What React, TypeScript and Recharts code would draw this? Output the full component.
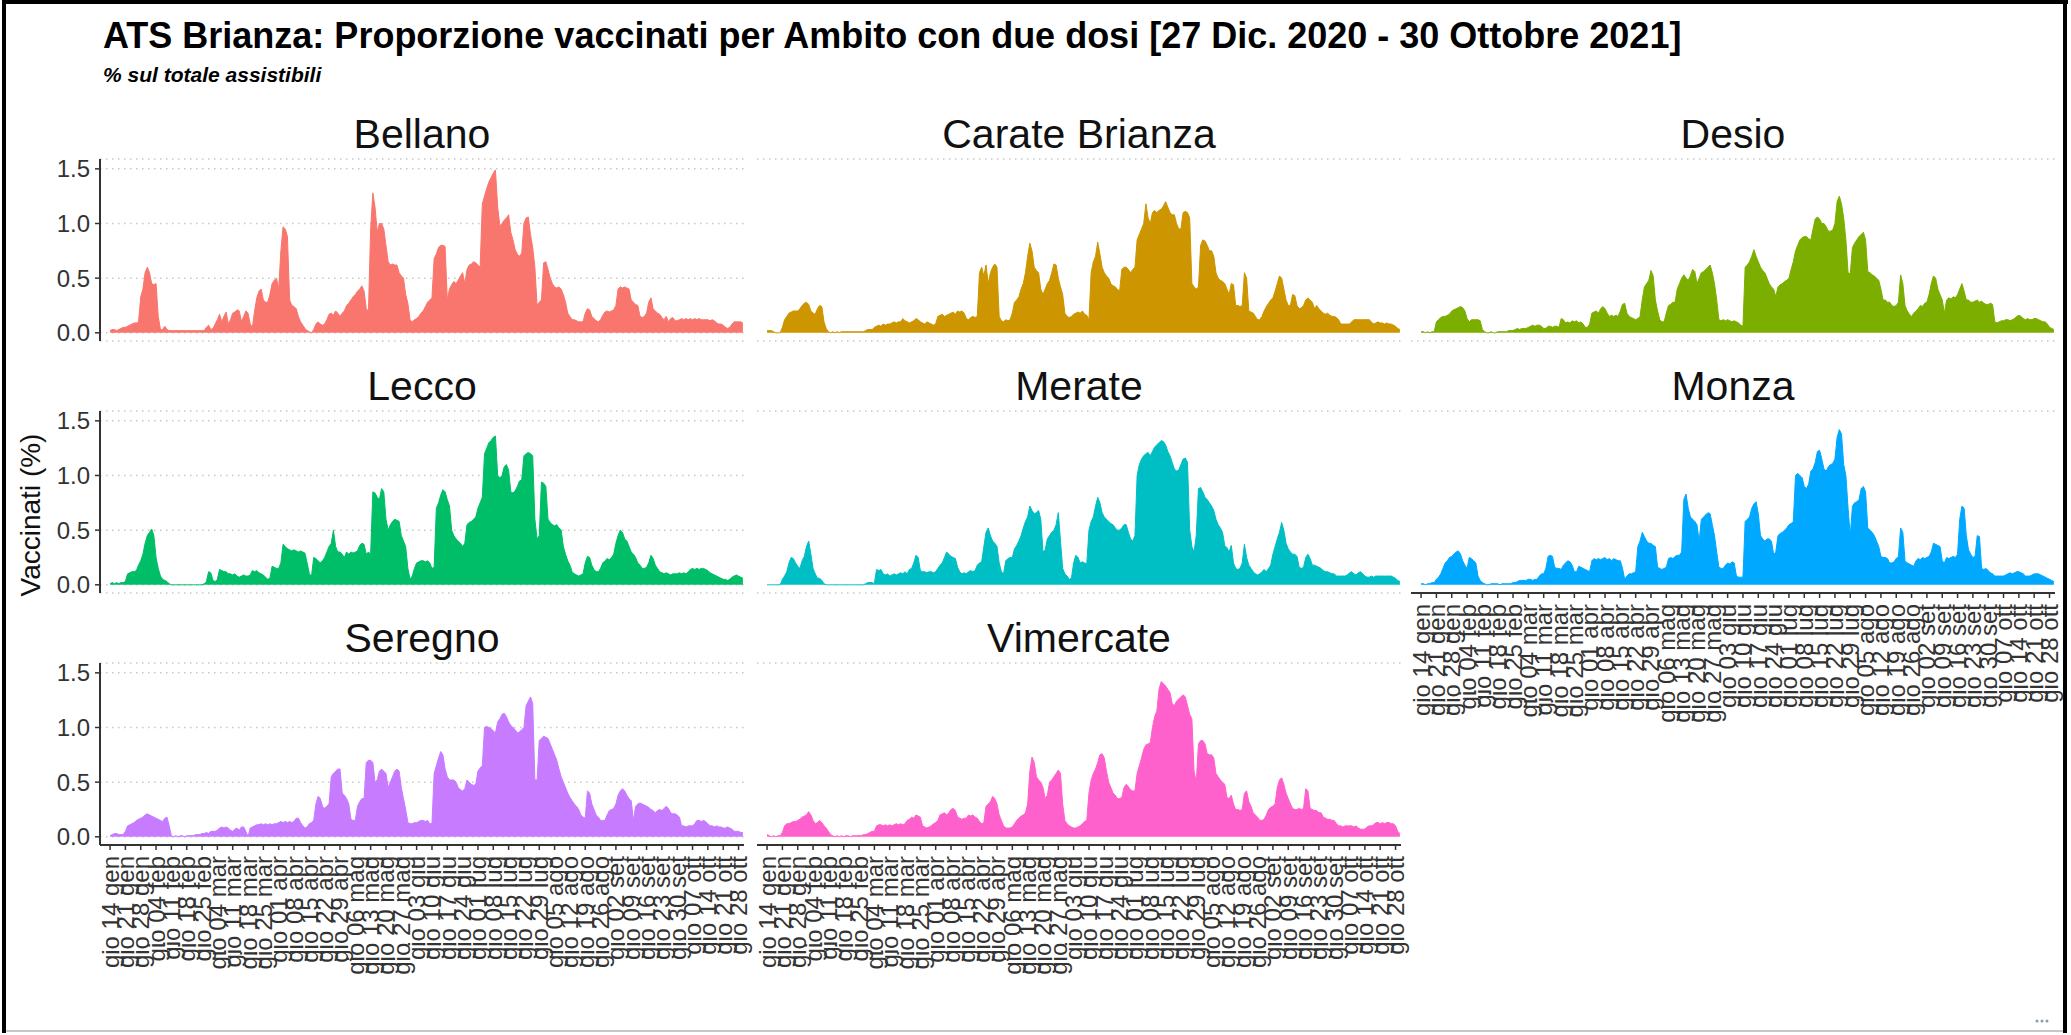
import { Area, AreaChart, CartesianGrid, XAxis, YAxis } from "recharts"

// weekly tick labels (Thursdays), the axis runs daily from gio 14 gen to sab 30 ott
const tickLabels = [
  "gio 14 gen", "gio 21 gen", "gio 28 gen",
  "gio 04 feb", "gio 11 feb", "gio 18 feb", "gio 25 feb",
  "gio 04 mar", "gio 11 mar", "gio 18 mar", "gio 25 mar",
  "gio 01 apr", "gio 08 apr", "gio 15 apr", "gio 22 apr", "gio 29 apr",
  "gio 06 mag", "gio 13 mag", "gio 20 mag", "gio 27 mag",
  "gio 03 giu", "gio 10 giu", "gio 17 giu", "gio 24 giu",
  "gio 01 lug", "gio 08 lug", "gio 15 lug", "gio 22 lug", "gio 29 lug",
  "gio 05 ago", "gio 12 ago", "gio 19 ago", "gio 26 ago",
  "gio 02 set", "gio 09 set", "gio 16 set", "gio 23 set", "gio 30 set",
  "gio 07 ott", "gio 14 ott", "gio 21 ott", "gio 28 ott",
]

const yTicks = [0, 0.5, 1, 1.5]

// daily values in hundredths of a percent (290 days, two weeks per line)
const bellano = [
  2, 3, 3, 2, 3, 4, 5, 5, 6, 7, 8, 9, 9, 10,
  33, 40, 55, 60, 55, 45, 44, 45, 15, 3, 3, 6, 3, 2,
  2, 2, 2, 2, 2, 2, 2, 2, 2, 2, 2, 2, 2, 2,
  2, 2, 5, 7, 3, 4, 8, 12, 17, 10, 15, 19, 8, 12,
  18, 19, 21, 20, 10, 15, 20, 18, 8, 5, 20, 32, 38, 40,
  30, 28, 28, 35, 45, 48, 50, 40, 75, 97, 95, 88, 30, 25,
  24, 22, 15, 10, 7, 4, 2, 1, 0, 3, 8, 10, 8, 7,
  8, 12, 17, 18, 16, 20, 18, 15, 18, 20, 25, 27, 30, 33,
  35, 38, 40, 43, 38, 22, 20, 95, 128, 115, 92, 100, 100, 95,
  80, 65, 62, 63, 62, 62, 55, 52, 50, 35, 27, 12, 10, 12,
  13, 15, 18, 20, 24, 28, 30, 32, 68, 72, 78, 80, 80, 79,
  30, 40, 44, 47, 45, 48, 52, 55, 45, 58, 62, 63, 65, 64,
  62, 60, 118, 125, 132, 138, 142, 146, 149, 115, 98, 100, 103, 105,
  108, 92, 85, 76, 72, 70, 73, 100, 105, 106, 90, 78, 60, 25,
  28, 30, 64, 65, 58, 50, 45, 42, 41, 42, 40, 35, 28, 18,
  15, 12, 12, 11, 10, 10, 10, 18, 22, 21, 15, 13, 11, 10,
  12, 16, 19, 20, 19, 20, 21, 25, 40, 42, 41, 42, 41, 40,
  30, 28, 26, 25, 15, 14, 15, 18, 28, 32, 22, 20, 18, 17,
  14, 12, 15, 10, 13, 14, 11, 11, 12, 13, 12, 13, 12, 13,
  12, 13, 12, 13, 12, 12, 12, 12, 11, 12, 11, 9, 8, 8,
  7, 5, 4, 5, 8, 10, 10, 10, 10, 9,
]

const carateBrianza = [
  2, 2, 2, 1, 0, 0, 0, 5, 12, 15, 18, 19, 20, 20,
  20, 22, 25, 27, 28, 26, 20, 18, 17, 22, 25, 24, 10, 4,
  1, 0, 1, 0, 1, 0, 1, 1, 1, 1, 1, 1, 1, 1,
  1, 1, 1, 2, 3, 3, 3, 5, 6, 7, 6, 8, 7, 8,
  8, 9, 10, 9, 10, 10, 13, 11, 10, 9, 10, 11, 13, 12,
  10, 9, 8, 10, 9, 8, 7, 8, 15, 16, 17, 15, 16, 17,
  18, 19, 17, 20, 19, 20, 18, 13, 12, 14, 15, 14, 15, 55,
  60, 52, 62, 45, 55, 60, 63, 60, 15, 11, 10, 12, 11, 12,
  18, 28, 30, 33, 40, 45, 55, 70, 82, 75, 60, 57, 55, 40,
  35, 40, 45, 48, 55, 63, 62, 50, 42, 35, 18, 15, 14, 15,
  17, 18, 19, 18, 20, 17, 16, 12, 55, 65, 70, 83, 72, 60,
  55, 52, 50, 45, 43, 42, 40, 38, 58, 60, 60, 58, 55, 58,
  60, 85, 90, 95, 100, 118, 105, 100, 110, 112, 110, 112, 113, 116,
  120, 115, 110, 108, 108, 100, 95, 95, 110, 111, 110, 105, 45, 42,
  40, 42, 80, 85, 84, 80, 75, 75, 70, 55, 50, 48, 47, 45,
  40, 35, 45, 44, 25, 25, 24, 25, 55, 50, 20, 19, 18, 15,
  12, 12, 15, 20, 24, 27, 30, 32, 38, 45, 52, 50, 40, 30,
  25, 25, 35, 34, 25, 22, 23, 25, 30, 32, 30, 28, 22, 25,
  22, 20, 18, 17, 18, 16, 15, 15, 14, 12, 8, 8, 8, 8,
  8, 10, 12, 12, 12, 12, 12, 12, 12, 12, 10, 8, 9, 10,
  9, 9, 8, 9, 8, 8, 7, 6, 4, 3,
]

const desio = [
  1, 1, 0, 1, 0, 1, 1, 10, 12, 14, 15, 15, 16, 17,
  20, 21, 22, 23, 24, 23, 20, 13, 10, 12, 12, 12, 12, 11,
  3, 1, 0, 0, 1, 0, 0, 1, 1, 1, 1, 1, 2, 2,
  2, 3, 4, 3, 4, 4, 4, 5, 6, 7, 6, 7, 7, 6,
  4, 4, 6, 6, 5, 6, 6, 5, 13, 12, 9, 10, 9, 11,
  10, 11, 9, 10, 8, 5, 5, 8, 18, 19, 20, 18, 22, 24,
  22, 18, 15, 16, 15, 16, 15, 20, 26, 27, 18, 15, 14, 13,
  12, 13, 15, 30, 42, 45, 48, 57, 52, 30, 20, 12, 10, 10,
  18, 25, 26, 28, 28, 40, 45, 50, 53, 50, 48, 52, 58, 56,
  45, 50, 55, 56, 58, 60, 62, 55, 45, 30, 12, 11, 12, 11,
  12, 11, 10, 11, 10, 9, 7, 6, 60, 62, 65, 70, 76, 70,
  65, 60, 57, 55, 50, 45, 42, 40, 33, 42, 44, 45, 47, 48,
  50, 58, 65, 75, 80, 85, 87, 88, 88, 86, 85, 95, 104, 106,
  104, 100, 100, 97, 93, 93, 94, 100, 120, 125, 118, 105, 85, 55,
  54, 78, 82, 85, 88, 90, 92, 85, 56, 55, 53, 52, 50, 48,
  40, 30, 30, 28, 28, 25, 24, 25, 28, 53, 45, 25, 20, 17,
  15, 18, 20, 22, 25, 24, 27, 28, 35, 45, 52, 50, 40, 35,
  30, 18, 30, 32, 31, 33, 32, 35, 40, 45, 38, 30, 30, 28,
  28, 29, 30, 28, 29, 27, 26, 26, 27, 26, 10, 9, 10, 11,
  11, 12, 12, 11, 12, 13, 15, 16, 15, 13, 12, 13, 12, 12,
  13, 13, 12, 11, 10, 10, 8, 5, 4, 3,
]

const lecco = [
  1, 2, 1, 2, 1, 2, 2, 3, 10, 11, 12, 12, 13, 18,
  22, 28, 38, 45, 48, 51, 45, 25, 15, 8, 5, 4, 3, 1,
  0, 0, 0, 0, 0, 0, 0, 0, 0, 0, 0, 0, 0, 0,
  0, 1, 3, 12, 11, 4, 3, 5, 14, 13, 12, 12, 10, 10,
  9, 10, 8, 7, 8, 9, 8, 8, 9, 13, 12, 13, 11, 10,
  9, 7, 5, 6, 17, 16, 15, 15, 20, 37, 35, 33, 32, 31,
  32, 31, 30, 31, 30, 29, 20, 10, 8, 25, 24, 22, 20, 22,
  25, 30, 35, 38, 50, 35, 30, 30, 28, 25, 30, 28, 30, 29,
  30, 31, 36, 38, 37, 28, 30, 28, 85, 84, 80, 78, 88, 85,
  60, 50, 55, 58, 60, 59, 58, 45, 40, 35, 15, 5, 8, 15,
  20, 21, 22, 22, 21, 22, 20, 15, 16, 70, 75, 82, 87, 85,
  78, 72, 50, 45, 42, 40, 38, 35, 38, 55, 57, 58, 60, 62,
  70, 75, 80, 120, 125, 130, 132, 135, 136, 100, 98, 100, 108, 110,
  105, 85, 84, 86, 90, 95, 96, 118, 120, 121, 120, 118, 60, 42,
  45, 94, 93, 90, 60, 57, 55, 54, 55, 52, 50, 35, 28, 22,
  18, 12, 10, 9, 8, 9, 10, 20, 26, 25, 18, 14, 12, 12,
  15, 20, 22, 24, 23, 25, 28, 38, 45, 50, 48, 42, 40, 35,
  30, 28, 25, 20, 18, 15, 15, 16, 20, 27, 24, 18, 15, 12,
  11, 10, 11, 10, 9, 10, 10, 10, 11, 10, 11, 10, 12, 14,
  15, 14, 15, 14, 15, 15, 14, 13, 11, 10, 9, 8, 7, 6,
  5, 5, 4, 5, 7, 8, 9, 8, 7, 6,
]

const merate = [
  0, 0, 0, 0, 0, 0, 0, 5, 8, 12, 20, 25, 24, 20,
  17, 15, 22, 26, 35, 40, 28, 15, 10, 6, 6, 4, 1, 0,
  0, 0, 0, 0, 0, 0, 0, 0, 0, 0, 0, 0, 0, 0,
  0, 0, 0, 1, 2, 2, 2, 1, 14, 13, 14, 10, 9, 10,
  8, 9, 10, 9, 10, 11, 10, 12, 10, 14, 15, 20, 27, 25,
  13, 12, 12, 11, 12, 12, 11, 12, 15, 18, 20, 25, 30, 28,
  26, 25, 24, 16, 12, 10, 11, 10, 12, 13, 12, 13, 18, 20,
  21, 35, 48, 52, 45, 40, 38, 35, 20, 12, 10, 22, 24, 25,
  25, 33, 36, 40, 45, 52, 58, 62, 72, 68, 65, 66, 68, 60,
  30, 32, 42, 45, 48, 50, 55, 66, 40, 15, 10, 8, 5, 6,
  20, 27, 25, 20, 21, 20, 19, 50, 58, 62, 72, 80, 75, 66,
  62, 60, 58, 56, 55, 52, 50, 50, 52, 55, 55, 48, 42, 40,
  45, 100, 110, 115, 118, 120, 121, 118, 122, 126, 128, 130, 132, 131,
  128, 122, 118, 112, 106, 104, 105, 110, 115, 116, 112, 50, 35, 30,
  45, 88, 89, 85, 80, 78, 75, 72, 68, 60, 55, 52, 48, 36,
  34, 30, 36, 20, 15, 14, 15, 20, 37, 25, 18, 15, 12, 10,
  9, 10, 12, 14, 12, 15, 18, 28, 35, 42, 48, 57, 50, 38,
  33, 30, 28, 28, 26, 16, 15, 16, 25, 28, 24, 18, 18, 17,
  16, 15, 13, 12, 12, 11, 10, 10, 8, 8, 8, 8, 8, 9,
  11, 12, 10, 9, 11, 12, 10, 8, 7, 7, 8, 7, 8, 8,
  8, 8, 8, 8, 8, 8, 7, 6, 4, 3,
]

const monza = [
  1, 1, 0, 1, 1, 2, 2, 5, 7, 10, 15, 20, 22, 25,
  26, 28, 30, 31, 28, 22, 18, 15, 25, 24, 22, 20, 8, 4,
  2, 1, 0, 0, 1, 1, 1, 1, 0, 1, 1, 1, 1, 1,
  2, 2, 3, 4, 4, 4, 4, 5, 5, 4, 5, 5, 8, 10,
  10, 15, 26, 27, 26, 16, 15, 15, 14, 18, 20, 22, 21, 18,
  12, 12, 17, 16, 15, 14, 13, 12, 22, 24, 23, 24, 23, 24,
  25, 23, 24, 22, 24, 23, 22, 22, 15, 5, 8, 10, 10, 11,
  12, 35, 40, 48, 44, 40, 38, 38, 36, 35, 16, 15, 14, 15,
  16, 24, 25, 24, 26, 27, 27, 30, 78, 83, 70, 62, 60, 58,
  55, 40, 60, 62, 64, 66, 65, 55, 45, 30, 16, 15, 15, 18,
  20, 19, 21, 20, 8, 7, 7, 7, 58, 60, 62, 70, 74, 76,
  65, 45, 42, 40, 42, 42, 40, 28, 30, 45, 47, 48, 50, 52,
  55, 56, 58, 100, 102, 100, 98, 90, 88, 92, 104, 106, 112, 122,
  123, 115, 106, 104, 108, 110, 111, 115, 135, 142, 138, 110, 100, 70,
  45, 72, 75, 76, 78, 88, 90, 85, 52, 50, 48, 45, 40, 35,
  26, 25, 25, 24, 20, 20, 21, 24, 26, 52, 48, 22, 20, 19,
  18, 17, 22, 24, 23, 25, 24, 25, 26, 30, 38, 37, 36, 35,
  22, 20, 25, 24, 25, 26, 25, 28, 60, 72, 70, 45, 32, 28,
  25, 26, 45, 44, 15, 14, 15, 13, 11, 10, 8, 8, 8, 8,
  8, 9, 10, 11, 10, 11, 12, 12, 11, 10, 8, 8, 8, 9,
  10, 10, 10, 9, 8, 7, 6, 5, 4, 3,
]

const seregno = [
  1, 2, 3, 3, 2, 2, 2, 5, 10, 11, 12, 13, 15, 16,
  17, 18, 20, 21, 20, 19, 18, 17, 16, 15, 14, 17, 18, 10,
  1, 0, 1, 0, 1, 1, 0, 1, 1, 1, 1, 2, 2, 2,
  3, 3, 4, 3, 5, 5, 5, 6, 8, 9, 8, 9, 8, 6,
  5, 7, 8, 6, 9, 9, 5, 0, 8, 9, 10, 11, 11, 12,
  11, 12, 11, 12, 11, 12, 12, 13, 14, 13, 14, 13, 14, 13,
  14, 17, 17, 13, 10, 8, 9, 12, 13, 15, 30, 37, 35, 28,
  26, 28, 30, 55, 58, 60, 62, 62, 40, 38, 35, 30, 16, 15,
  15, 28, 32, 35, 35, 68, 70, 70, 68, 50, 52, 60, 62, 60,
  58, 45, 50, 55, 60, 62, 60, 45, 35, 25, 13, 12, 12, 13,
  13, 14, 15, 15, 14, 15, 12, 12, 58, 65, 72, 78, 75, 62,
  55, 52, 52, 52, 50, 45, 43, 42, 44, 52, 50, 48, 47, 48,
  60, 63, 65, 100, 101, 100, 99, 97, 95, 105, 108, 112, 113, 110,
  105, 102, 100, 98, 95, 96, 98, 100, 120, 124, 128, 122, 52, 52,
  88, 90, 92, 91, 90, 85, 80, 75, 70, 62, 55, 50, 45, 40,
  36, 33, 30, 28, 25, 20, 18, 17, 42, 40, 30, 25, 20, 18,
  15, 15, 15, 20, 24, 25, 26, 30, 38, 42, 44, 42, 38, 35,
  33, 15, 28, 30, 31, 30, 29, 28, 27, 25, 24, 22, 24, 25,
  24, 26, 28, 26, 22, 21, 21, 20, 18, 10, 10, 9, 10, 10,
  10, 12, 15, 15, 14, 15, 14, 12, 10, 10, 9, 10, 9, 9,
  8, 8, 9, 8, 7, 5, 5, 5, 4, 4,
]

const vimercate = [
  2, 1, 0, 1, 0, 1, 1, 4, 10, 12, 12, 13, 14, 14,
  15, 16, 18, 19, 20, 23, 20, 15, 12, 13, 15, 13, 10, 8,
  5, 2, 1, 0, 1, 0, 1, 0, 1, 1, 0, 1, 1, 1,
  1, 1, 2, 2, 3, 4, 5, 5, 10, 11, 11, 10, 11, 10,
  11, 10, 11, 12, 11, 12, 11, 12, 15, 16, 18, 17, 20, 19,
  18, 10, 9, 8, 9, 10, 12, 13, 15, 20, 21, 22, 20, 22,
  25, 26, 24, 18, 17, 16, 17, 17, 20, 19, 20, 18, 17, 14,
  12, 13, 28, 30, 32, 37, 35, 30, 20, 15, 10, 8, 8, 8,
  9, 12, 15, 17, 19, 20, 22, 30, 60, 73, 68, 55, 52, 50,
  45, 35, 38, 50, 52, 55, 58, 61, 58, 30, 15, 12, 10, 9,
  8, 8, 9, 10, 12, 14, 15, 40, 52, 58, 62, 68, 75, 76,
  72, 60, 50, 45, 40, 38, 35, 35, 36, 45, 48, 46, 43, 42,
  42, 58, 65, 72, 80, 84, 85, 86, 100, 110, 115, 135, 142, 140,
  138, 135, 132, 122, 120, 124, 126, 128, 130, 128, 120, 112, 108, 60,
  50, 85, 88, 88, 85, 76, 75, 75, 72, 58, 55, 52, 50, 48,
  36, 35, 38, 30, 25, 25, 24, 25, 40, 42, 32, 28, 22, 20,
  18, 15, 15, 16, 20, 25, 27, 28, 30, 45, 52, 54, 48, 40,
  35, 30, 26, 25, 25, 26, 25, 26, 44, 42, 26, 25, 24, 24,
  22, 22, 18, 17, 16, 16, 15, 15, 12, 10, 10, 9, 10, 10,
  10, 10, 9, 10, 8, 7, 7, 7, 9, 10, 10, 11, 13, 13,
  12, 13, 12, 13, 13, 12, 12, 10, 5, 3,
]

type PanelDef = { name: string; values: number[]; color: string; row: number; col: number; xAxis: boolean }

const panels: PanelDef[] = [
  { name: "Bellano", values: bellano, color: "#F8766D", row: 0, col: 0, xAxis: false },
  { name: "Carate Brianza", values: carateBrianza, color: "#CD9600", row: 0, col: 1, xAxis: false },
  { name: "Desio", values: desio, color: "#7CAE00", row: 0, col: 2, xAxis: false },
  { name: "Lecco", values: lecco, color: "#00BE67", row: 1, col: 0, xAxis: false },
  { name: "Merate", values: merate, color: "#00BFC4", row: 1, col: 1, xAxis: false },
  { name: "Monza", values: monza, color: "#00A9FF", row: 1, col: 2, xAxis: true },
  { name: "Seregno", values: seregno, color: "#C77CFF", row: 2, col: 0, xAxis: true },
  { name: "Vimercate", values: vimercate, color: "#FF61CC", row: 2, col: 1, xAxis: true },
]

const FONT = '"Liberation Sans", Arial, sans-serif'
const COL_X = [100, 757, 1411]
const ROW_Y = [159, 411, 663]
const PLOT_W = 644
const PLOT_H = 182
const LEFT = 100 // margin 40 + y axis 60
const RIGHT = 16
const TOP = 10
const BOTTOM = 14
const X_AXIS_H = 135
const X_DOMAIN = [-4.6, 289.5]
const Y_DOMAIN = [-0.075, 1.59]
const dayTicks = tickLabels.map((_, i) => i * 7)

function DateTick({ x, y, payload }: any) {
  return (
    <text
      x={x}
      y={y}
      transform={`rotate(-90, ${x}, ${y})`}
      textAnchor="end"
      dominantBaseline="central"
      fontSize={24}
      fill="#333"
      fontFamily={FONT}
    >
      {tickLabels[Math.round(payload.value / 7)]}
    </text>
  )
}

function Panel({ panel }: { panel: PanelDef }) {
  const rows = panel.values.map((v, i) => ({ day: i, value: v / 100 }))
  const first = panel.col === 0
  const width = LEFT + PLOT_W + RIGHT
  const height = TOP + PLOT_H + (panel.xAxis ? X_AXIS_H : 0) + BOTTOM

  return (
    <div style={{ position: "absolute", left: COL_X[panel.col] - LEFT, top: ROW_Y[panel.row] - TOP }}>
      <AreaChart width={width} height={height} data={rows} margin={{ top: TOP, right: RIGHT, bottom: BOTTOM, left: 40 }}>
        <CartesianGrid vertical={false} stroke="#c8c8c8" strokeWidth={1.5} strokeDasharray="1.5 4.5" />
        {panel.xAxis ? (
          <XAxis
            type="number"
            dataKey="day"
            domain={X_DOMAIN}
            ticks={dayTicks}
            interval={0}
            height={X_AXIS_H}
            tick={<DateTick />}
            tickSize={5}
            tickMargin={6}
            axisLine={{ stroke: "#333", strokeWidth: 2 }}
            tickLine={{ stroke: "#333", strokeWidth: 1.5 }}
          />
        ) : (
          <XAxis type="number" dataKey="day" domain={X_DOMAIN} hide />
        )}
        <YAxis
          type="number"
          domain={Y_DOMAIN}
          ticks={yTicks}
          interval={0}
          width={60}
          tick={first ? { fill: "#333", fontSize: 24, fontFamily: FONT } : false}
          tickFormatter={(v: number) => v.toFixed(1)}
          tickSize={5}
          tickMargin={5}
          axisLine={first ? { stroke: "#333", strokeWidth: 2 } : false}
          tickLine={first ? { stroke: "#333", strokeWidth: 1.5 } : false}
        />
        <Area
          type="linear"
          dataKey="value"
          stroke={panel.color}
          strokeWidth={1}
          fill={panel.color}
          fillOpacity={1}
          dot={false}
          activeDot={false}
          isAnimationActive={false}
        />
      </AreaChart>
    </div>
  )
}

export default function App() {
  return (
    <div style={{ position: "absolute", left: 0, top: 0, width: 2071, height: 1035, background: "#fff", fontFamily: FONT }}>
      <svg width={2071} height={1035} style={{ position: "absolute", left: 0, top: 0 }}>
        <rect x={2} y={0} width={4} height={1033} fill="#000" />
        <rect x={2} y={0} width={2066} height={4} fill="#000" />
        <rect x={2063} y={0} width={4} height={1033} fill="#000" />
        <rect x={6} y={1030} width={2057} height={2} fill="#c8c8c8" />
        <text x={103} y={48} fontSize={36} fontWeight="bold" fill="#000" fontFamily={FONT}>
          ATS Brianza: Proporzione vaccinati per Ambito con due dosi [27 Dic. 2020 - 30 Ottobre 2021]
        </text>
        <text x={103} y={82} fontSize={21} fontWeight="bold" fontStyle="italic" fill="#000" fontFamily={FONT}>
          % sul totale assistibili
        </text>
        {panels.map((p) => (
          <text
            key={p.name}
            x={COL_X[p.col] + PLOT_W / 2}
            y={ROW_Y[p.row] - 11}
            fontSize={41}
            textAnchor="middle"
            fill="#111"
            fontFamily={FONT}
          >
            {p.name}
          </text>
        ))}
        <text x={40} y={515} fontSize={28} textAnchor="middle" fill="#111" fontFamily={FONT} transform="rotate(-90, 40, 515)">
          Vaccinati (%)
        </text>
        <circle cx={2037} cy={1021} r={1.5} fill="#8a9bb0" />
        <circle cx={2042} cy={1021} r={1.5} fill="#8a9bb0" />
        <circle cx={2047} cy={1021} r={1.5} fill="#8a9bb0" />
      </svg>
      {panels.map((p) => (
        <Panel key={p.name} panel={p} />
      ))}
    </div>
  )
}
